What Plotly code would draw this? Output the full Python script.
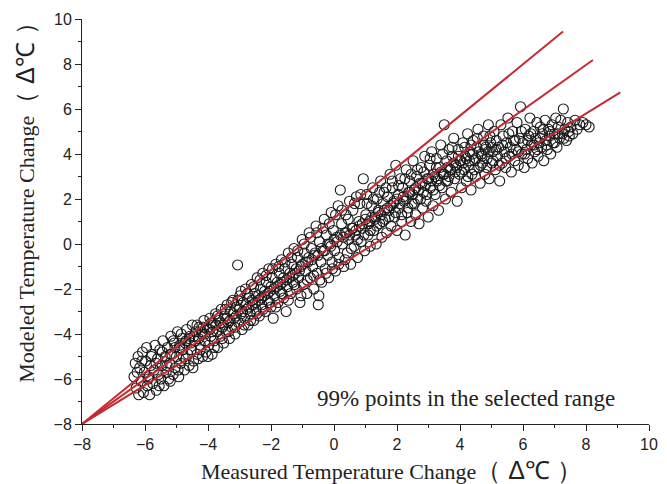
import plotly.graph_objects as go

# Measured vs modeled temperature change (pairs)
scatter_pairs = [
(-6.35,-5.9),(-6.31,-5.3),(-6.28,-6.4),(-6.22,-5.0),(-6.2,-6.7),(-6.17,-5.5),(-6.12,-6.1),(-6.08,-4.8),(-6.05,-6.6),(-6.02,-5.7),
(-5.98,-5.2),(-5.95,-4.6),(-5.93,-6.3),(-5.88,-5.9),(-5.85,-6.7),(-5.82,-5.4),(-5.78,-4.9),(-5.75,-6.2),(-5.71,-5.6),(-5.68,-4.5),
(-5.64,-6.5),(-5.6,-5.1),(-5.57,-5.8),(-5.53,-4.7),(-5.5,-6.0),(-5.46,-5.4),(-5.43,-4.3),(-5.4,-6.3),(-5.36,-5.0),(-5.33,-5.7),
(-5.29,-4.6),(-5.25,-6.0),(-5.22,-5.3),(-5.18,-4.1),(-5.15,-4.9),(-5.11,-5.8),(-5.07,-4.4),(-5.04,-5.5),(-5.0,-5.0),(-4.97,-3.9),
(-4.93,-5.9),(-4.9,-4.6),(-4.86,-5.3),(-4.82,-4.2),(-4.79,-5.0),(-4.75,-5.6),(-4.72,-4.4),(-4.68,-3.8),(-4.64,-4.9),(-4.6,-5.4),
(-4.57,-4.1),(-4.53,-4.7),(-4.5,-3.6),(-4.46,-5.2),(-4.42,-4.3),(-4.39,-3.9),(-4.35,-4.9),(-4.31,-5.1),(-4.28,-3.7),(-4.24,-4.5),
(-4.2,-4.0),(-4.17,-5.0),(-4.13,-3.4),(-4.09,-4.3),(-4.06,-4.8),(-4.02,-3.8),(-3.98,-4.5),(-3.94,-3.3),(-3.91,-4.1),(-3.87,-4.9),
(-3.83,-3.6),(-3.8,-4.3),(-3.76,-3.1),(-3.72,-3.9),(-3.69,-4.6),(-3.65,-3.4),(-3.61,-4.1),(-3.58,-2.9),(-3.54,-3.7),(-3.5,-4.4),
(-3.47,-3.2),(-3.43,-3.9),(-3.39,-2.7),(-3.36,-3.5),(-3.32,-4.2),(-3.28,-3.0),(-3.25,-3.7),(-3.21,-2.5),(-3.17,-3.3),(-3.14,-4.0),
(-3.1,-2.8),(-3.06,-0.93),(-3.03,-3.5),(-2.99,-2.3),(-2.95,-3.1),(-2.92,-3.8),(-2.88,-2.6),(-2.84,-3.3),(-2.81,-2.0),(-2.77,-2.9),
(-2.73,-3.6),(-2.7,-2.4),(-2.66,-3.1),(-2.62,-1.8),(-2.59,-2.7),(-2.55,-3.4),(-2.51,-2.2),(-2.48,-2.9),(-2.44,-1.5),(-2.4,-2.5),
(-2.37,-3.2),(-2.33,-2.0),(-2.29,-2.7),(-2.26,-1.3),(-2.22,-2.3),(-2.18,-3.0),(-2.15,-1.7),(-2.11,-2.5),(-2.07,-1.1),(-2.04,-2.1),
(-2.0,-2.8),(-1.96,-1.5),(-1.93,-3.3),(-1.89,-2.3),(-1.85,-0.9),(-1.82,-1.9),(-1.78,-2.6),(-1.74,-1.3),(-1.71,-2.1),(-1.67,-0.7),
(-1.63,-1.7),(-1.6,-2.4),(-1.56,-1.1),(-1.52,-3.0),(-1.49,-1.9),(-1.45,-0.4),(-1.41,-1.5),(-1.38,-2.2),(-1.34,-0.9),(-1.3,-1.7),
(-1.27,-0.2),(-1.23,-1.3),(-1.19,-2.0),(-1.16,-0.6),(-1.12,-1.5),(-1.08,-2.6),(-1.05,-1.0),(-1.01,0.2),(-0.97,-1.8),(-0.94,-0.4),
(-0.9,-1.2),(-0.86,-2.2),(-0.83,-0.8),(-0.79,0.5),(-0.75,-1.5),(-0.72,-0.2),(-0.68,-1.0),(-0.64,-2.0),(-0.61,-0.5),(-0.57,0.8),
(-0.53,-1.3),(-0.5,-2.7),(-0.48,-2.3),(-0.46,0.1),(-0.42,-0.8),(-0.39,-1.7),(-0.35,-0.3),(-0.31,1.1),(-0.28,-1.1),(-0.24,0.4),
(-0.2,-0.5),(-0.17,-1.5),(-0.13,0.0),(-0.09,1.4),(-0.06,-0.8),(-0.02,0.6),(0.02,-0.3),(0.05,-1.2),(0.09,0.3),(0.13,1.7),
(0.16,-0.6),(0.2,2.4),(0.24,0.9),(0.27,0.0),(0.31,-1.0),(0.35,0.5),(0.38,1.3),(0.42,-0.4),(0.46,0.2),(0.49,1.9),
(0.53,-0.9),(0.57,0.7),(0.6,1.5),(0.64,-0.1),(0.68,0.4),(0.71,2.1),(0.75,-0.6),(0.79,1.0),(0.82,1.8),(0.86,0.1),
(0.9,0.7),(0.93,2.9),(0.97,-0.3),(1.01,1.3),(1.04,2.2),(1.08,0.4),(1.12,1.0),(1.15,-0.1),(1.19,1.7),(1.23,2.5),
(1.26,0.6),(1.3,1.2),(1.34,0.0),(1.37,2.0),(1.41,1.5),(1.45,0.9),(1.48,2.8),(1.52,0.3),(1.56,1.8),(1.59,2.3),
(1.63,1.1),(1.67,0.5),(1.7,2.1),(1.74,1.5),(1.78,3.1),(1.81,0.8),(1.85,2.5),(1.89,1.8),(1.92,1.2),(1.96,3.5),
(2.0,0.6),(2.04,2.2),(2.07,1.6),(2.11,2.9),(2.15,1.0),(2.18,2.5),(2.22,1.9),(2.26,0.4),(2.29,3.3),(2.33,1.4),
(2.37,2.3),(2.4,2.8),(2.44,1.0),(2.48,1.8),(2.51,3.7),(2.55,2.4),(2.59,1.3),(2.62,3.0),(2.66,2.0),(2.7,0.9),
(2.73,2.7),(2.77,3.4),(2.81,1.6),(2.84,2.3),(2.88,3.9),(2.92,1.9),(2.95,2.9),(2.99,1.2),(3.03,3.5),(3.06,2.5),
(3.1,4.1),(3.14,1.7),(3.17,3.1),(3.21,2.2),(3.25,3.8),(3.28,2.8),(3.32,1.5),(3.36,3.4),(3.39,4.4),(3.43,2.5),
(3.47,3.1),(3.5,5.3),(3.54,2.0),(3.58,3.7),(3.61,2.8),(3.65,4.2),(3.69,3.3),(3.72,2.3),(3.76,3.9),(3.8,4.7),
(3.83,2.9),(3.87,3.5),(3.91,1.9),(3.94,4.2),(3.98,3.1),(4.02,3.7),(4.05,2.5),(4.09,4.5),(4.13,3.3),(4.16,3.9),
(4.2,2.8),(4.24,4.9),(4.27,3.5),(4.31,4.1),(4.35,2.4),(4.38,3.1),(4.42,4.6),(4.46,3.7),(4.49,3.0),(4.53,4.3),
(4.57,5.1),(4.6,3.4),(4.64,2.7),(4.68,4.0),(4.71,3.6),(4.75,4.8),(4.79,3.1),(4.82,4.3),(4.86,3.8),(4.9,5.3),
(4.93,2.9),(4.97,4.5),(5.01,3.6),(5.04,4.1),(5.08,5.0),(5.12,3.3),(5.15,4.6),(5.19,3.9),(5.23,4.3),(5.26,2.8),
(5.3,5.3),(5.34,3.6),(5.37,4.8),(5.41,4.1),(5.45,3.4),(5.48,4.5),(5.52,5.6),(5.56,3.9),(5.59,4.3),(5.63,3.2),
(5.67,5.0),(5.7,4.6),(5.74,3.7),(5.78,4.2),(5.81,5.4),(5.85,3.5),(5.89,4.7),(5.92,6.1),(5.96,4.0),(6.0,4.5),
(6.04,3.4),(6.07,5.1),(6.11,4.2),(6.15,3.8),(6.18,4.8),(6.22,5.6),(6.26,4.4),(6.29,3.6),(6.33,5.0),(6.37,4.1),
(6.4,4.7),(6.44,5.4),(6.48,3.9),(6.51,4.5),(6.55,5.2),(6.59,4.3),(6.62,4.9),(6.66,3.7),(6.7,5.5),(6.73,4.6),
(6.77,4.2),(6.81,5.1),(6.84,4.8),(6.88,4.0),(6.92,5.3),(6.95,4.5),(7.0,4.9),(7.04,5.6),(7.08,4.3),(7.12,5.2),
(7.16,4.7),(7.2,5.5),(7.25,4.9),(7.28,6.0),(7.33,5.1),(7.38,4.6),(7.42,5.4),(7.47,4.8),(7.52,5.2),(7.58,4.9),
(7.65,5.5),(7.72,5.1),(7.8,5.3),(7.9,5.4),(8.0,5.3),(8.1,5.2),
# dense core of the band
(-5.2,-4.9),(-5.05,-4.6),(-4.9,-4.5),(-4.8,-4.7),(-4.7,-4.3),(-4.55,-4.4),(-4.45,-4.1),(-4.3,-4.2),(-4.2,-3.9),(-4.1,-4.0),
(-3.95,-3.8),(-3.85,-3.9),(-3.75,-3.6),(-3.6,-3.5),(-3.5,-3.6),(-3.4,-3.3),(-3.3,-3.4),(-3.2,-3.1),(-3.1,-3.2),(-3.0,-2.9),
(-2.9,-3.0),(-2.8,-2.7),(-2.7,-2.8),(-2.6,-2.5),(-2.5,-2.6),(-2.4,-2.3),(-2.3,-2.4),(-2.2,-2.1),(-2.1,-2.2),(-2.0,-1.9),
(-1.9,-2.0),(-1.8,-1.7),(-1.7,-1.8),(-1.6,-1.5),(-1.5,-1.6),(-1.4,-1.3),(-1.3,-1.4),(-1.2,-1.1),(-1.1,-1.2),(-1.0,-0.9),
(-0.9,-0.8),(-0.8,-0.6),(-0.7,-0.7),(-0.6,-0.4),(-0.5,-0.5),(-0.4,-0.2),(-0.3,-0.3),(-0.2,0.0),(-0.1,-0.1),(0.0,0.2),
(0.1,0.1),(0.2,0.4),(0.3,0.3),(0.4,0.5),(0.5,0.4),(0.6,0.7),(0.7,0.6),(0.8,0.8),(0.9,0.9),(1.0,1.1),
(1.1,0.9),(1.2,1.2),(1.3,1.1),(1.4,1.4),(1.5,1.3),(1.6,1.5),(1.7,1.6),(1.8,1.7),(1.9,1.9),(2.0,2.0),
(2.1,1.8),(2.2,2.1),(2.3,2.0),(2.4,2.3),(2.5,2.2),(2.6,2.5),(2.7,2.4),(2.8,2.7),(2.9,2.6),(3.0,2.9),
(3.1,2.8),(3.2,3.0),(3.3,2.9),(3.4,3.2),(3.5,3.1),(3.6,3.4),(3.7,3.3),(3.8,3.6),(3.9,3.4),(4.0,3.7),
(4.1,3.6),(4.2,3.8),(4.3,3.7),(4.4,4.0),(4.5,3.8),(4.6,4.1),(4.7,3.9),(4.8,4.2),(4.9,4.1),(5.0,4.3),
# further band fill
(-6.25,-5.7),(-6.1,-5.2),(-5.9,-6.0),(-5.8,-5.0),(-5.65,-5.3),(-5.55,-6.3),(-5.45,-4.8),(-5.3,-5.4),(-5.2,-6.1),(-5.1,-4.3),
(-4.95,-5.6),(-4.85,-4.0),(-4.7,-5.1),(-4.6,-4.2),(-4.48,-5.5),(-4.35,-3.6),(-4.25,-4.7),(-4.15,-3.7),(-4.0,-5.0),(-3.9,-3.5),
(-3.8,-4.6),(-3.7,-3.2),(-3.55,-4.2),(-3.45,-2.9),(-3.35,-3.9),(-3.25,-2.6),(-3.15,-3.7),(-3.05,-2.5),
(-2.95,-2.1),(-2.85,-3.6),(-2.75,-2.2),(-2.65,-3.4),(-2.55,-1.9),(-2.45,-3.1),(-2.35,-1.6),(-2.25,-2.9),(-2.15,-1.4),(-2.05,-2.6),
(-1.95,-1.1),(-1.85,-2.8),(-1.75,-1.0),(-1.65,-2.2),(-1.55,-0.8),(-1.45,-2.5),(-1.35,-0.6),(-1.25,-1.8),(-1.15,-0.3),(-1.05,-2.3),
(-0.95,0.0),(-0.85,-1.6),(-0.75,0.3),(-0.65,-1.4),(-0.55,0.5),(-0.45,-1.6),(-0.35,0.7),(-0.25,-1.3),(-0.15,0.9),(-0.05,-1.1),
(0.05,1.3),(0.15,-0.9),(0.25,1.5),(0.35,-0.7),(0.45,1.1),(0.55,-0.2),(0.65,1.8),(0.75,0.2),(0.85,2.2),(0.95,0.4),
(1.05,1.8),(1.15,0.6),(1.25,2.0),(1.35,0.8),(1.45,2.3),(1.55,1.0),(1.65,2.5),(1.75,1.2),(1.85,2.8),(1.95,1.4),
(2.05,2.6),(2.15,1.3),(2.25,2.9),(2.35,1.6),(2.45,3.1),(2.55,1.8),(2.65,3.3),(2.75,2.0),(2.85,3.2),(2.95,2.2),
(3.05,3.8),(3.15,2.4),(3.25,3.4),(3.35,2.6),(3.45,4.0),(3.55,2.8),(3.65,3.0),(3.75,4.3),(3.85,3.2),(3.95,3.9),
(4.05,3.2),(4.15,4.3),(4.25,3.0),(4.35,4.4),(4.45,3.3),(4.55,4.7),(4.65,3.5),(4.75,4.4),(4.85,3.4),(4.95,4.8),
(5.05,3.7),(5.15,4.2),(5.25,3.5),(5.35,4.4),(5.45,3.8),(5.55,4.9),(5.65,4.0),(5.75,4.6),(5.85,4.1),(5.95,5.0),
(6.05,4.0),(6.15,4.6),(6.25,4.9),(6.35,4.4),(6.45,4.2),(6.55,4.7),(6.65,5.1),(6.75,4.4),(6.85,5.0),(7.0,4.5),
(7.1,4.9),(7.3,4.7),(7.45,5.0),
]
measured = [p[0] for p in scatter_pairs]
modeled = [p[1] for p in scatter_pairs]

# Reference lines: all start at (-8,-8)
line_start = [-8.0, -8.0, -8.0]
line_end_x = [7.27, 8.22, 9.09]
line_end_y = [9.44, 8.18, 6.74]

tick_vals = [-8, -6, -4, -2, 0, 2, 4, 6, 8, 10]

fig = go.Figure()
fig.add_trace(go.Scatter(
    x=measured, y=modeled, mode="markers",
    marker=dict(symbol="circle-open", size=10, color="#1a1a1a", line=dict(width=1.1)),
    showlegend=False, cliponaxis=False,
))
for xs, xe, ys, ye in zip(line_start, line_end_x, line_start, line_end_y):
    fig.add_trace(go.Scatter(
        x=[xs, xe], y=[ys, ye], mode="lines",
        line=dict(color="#c42a2f", width=2),
        showlegend=False, cliponaxis=False,
    ))

axis_common = dict(
    range=[-8, 10], tickvals=tick_vals, ticks="outside", ticklen=6, tickwidth=1,
    tickcolor="#222", showline=True, linecolor="#222", linewidth=1, mirror=False,
    showgrid=False, zeroline=False,
    tickfont=dict(family="Liberation Sans, Arial, sans-serif", size=16, color="#222"),
    minor=dict(dtick=1, ticks="outside", ticklen=3, tickcolor="#222", showgrid=False),
)
fig.update_xaxes(**axis_common)
fig.update_yaxes(**axis_common)

unit = ('<span style="font-family:Liberation Sans, Arial, sans-serif;font-size:25px">'
        '（&nbsp;Δ℃&nbsp;）</span>')
fig.update_layout(
    width=667, height=484,
    margin=dict(l=82, r=9, t=19, b=60),
    paper_bgcolor="white", plot_bgcolor="white",
    annotations=[
        dict(text="Measured Temperature Change" + unit, xref="paper", yref="paper",
             x=0.545, y=-0.114, showarrow=False, xanchor="center", yanchor="middle",
             font=dict(family="Liberation Serif, Times New Roman, serif", size=22, color="#222")),
        dict(text="Modeled Temperature Change" + unit, xref="paper", yref="paper",
             x=-0.1, y=0.562, showarrow=False, xanchor="center", yanchor="middle", textangle=-90,
             font=dict(family="Liberation Serif, Times New Roman, serif", size=22, color="#222")),
        dict(text="99% points in the selected range", xref="paper", yref="paper",
             x=0.677, y=0.064, showarrow=False, xanchor="center", yanchor="middle",
             font=dict(family="Liberation Serif, Times New Roman, serif", size=23, color="#222")),
    ],
)

fig.write_html("out.html")
